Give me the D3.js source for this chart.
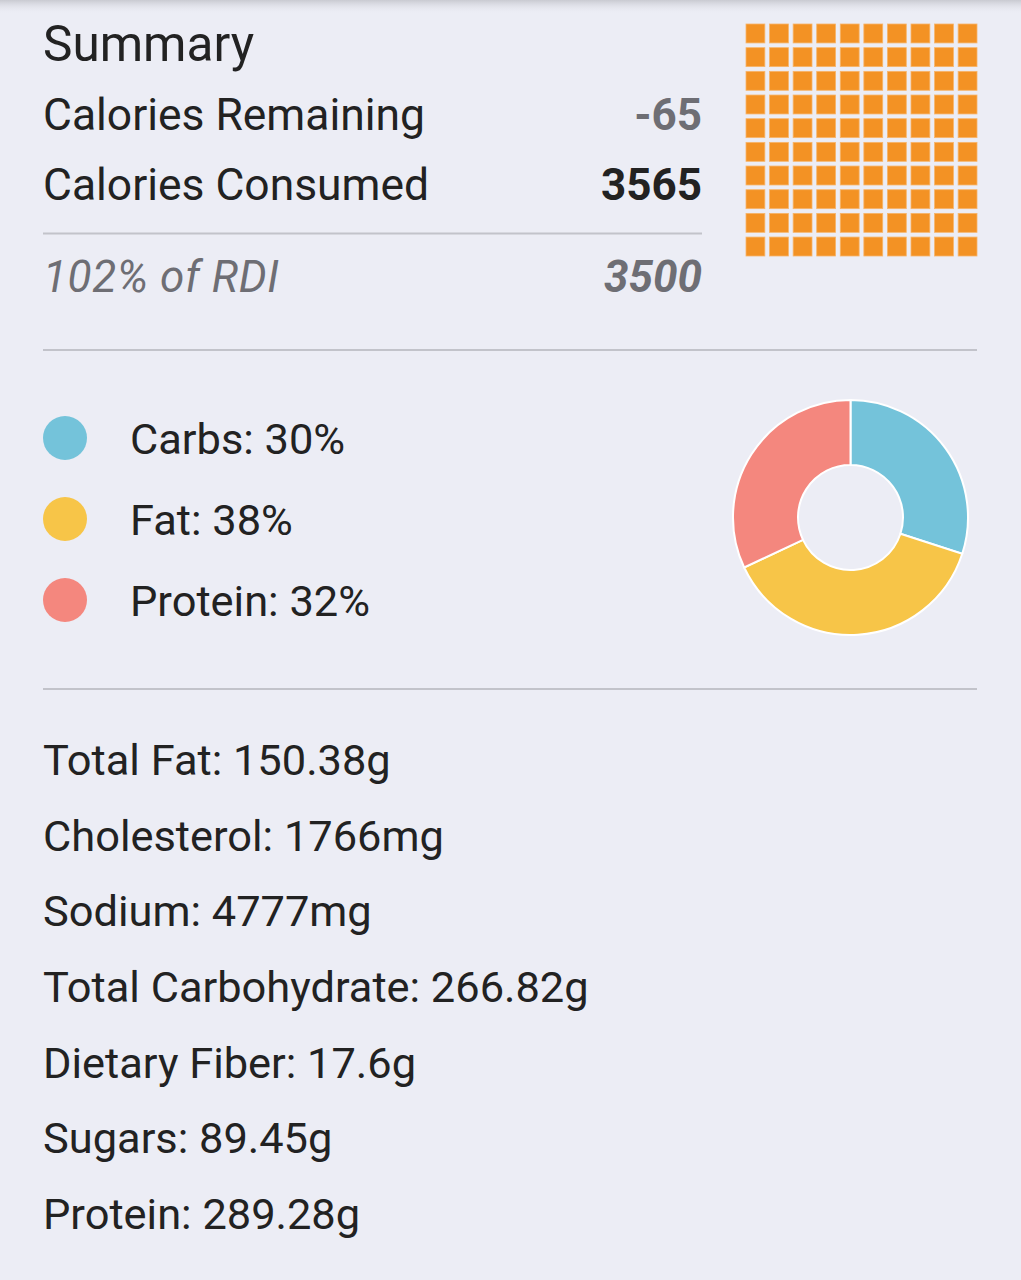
<!DOCTYPE html>
<html><head><meta charset="utf-8">
<script src="https://cdn.jsdelivr.net/npm/d3@7"></script>
<style>
html,body{margin:0;padding:0;background:#ECEDF5;}
svg{display:block;}
</style></head>
<body>
<svg id="chart" width="1021" height="1280"></svg>
<script>
// ---- data ----
const summaryTitle = "Summary";
const summaryLabels = ["Calories Remaining", "Calories Consumed"];
const summaryValues = [-65, 3565];
const rdiLabel = "102% of RDI";
const rdiGoal = 3500;
const macroNames = ["Carbs", "Fat", "Protein"];
const macroPercents = [30, 38, 32];
const macroColors = ["#74C3DA", "#F7C548", "#F4877E"];
const nutrientNames = ["Total Fat", "Cholesterol", "Sodium", "Total Carbohydrate", "Dietary Fiber", "Sugars", "Protein"];
const nutrientValues = ["150.38g", "1766mg", "4777mg", "266.82g", "17.6g", "89.45g", "289.28g"];
const waffleCols = d3.range(10);
const waffleRows = d3.range(10);

const svg = d3.select("#chart");
const font = "Roboto, 'Noto Sans', sans-serif";
const textColor = "#222222";
const grayText = "#6E6E74";
const lineColor = "#C2C3CA";

// top shadow
const defs = svg.append("defs");
const grad = defs.append("linearGradient").attr("id", "shadow").attr("x1", 0).attr("y1", 0).attr("x2", 0).attr("y2", 1);
grad.append("stop").attr("offset", "0%").attr("stop-color", "#C9CAD1");
grad.append("stop").attr("offset", "100%").attr("stop-color", "#ECEDF5").attr("stop-opacity", 0);
svg.append("rect").attr("x", 0).attr("y", 0).attr("width", 1021).attr("height", 14).attr("fill", "url(#shadow)");

// ---- summary ----
const leftX = 43, rightX = 702;
svg.append("text").attr("x", leftX).attr("y", 61).attr("font-family", font).attr("font-size", 49.5)
  .attr("fill", textColor).text(summaryTitle);

const rowY = d3.scalePoint().domain(summaryLabels).range([130, 200]);
svg.selectAll("text.slabel").data(summaryLabels).join("text").attr("class", "slabel")
  .attr("x", leftX).attr("y", d => rowY(d)).attr("font-family", font).attr("font-size", 44.4)
  .attr("fill", textColor).text(d => d);
svg.selectAll("text.svalue").data(summaryValues).join("text").attr("class", "svalue")
  .attr("x", rightX).attr("y", (d, i) => rowY(summaryLabels[i])).attr("text-anchor", "end")
  .attr("font-family", font).attr("font-size", 44).attr("font-weight", "bold")
  .attr("fill", (d, i) => i === 0 ? grayText : textColor).text(d => d);

svg.append("line").attr("x1", 43).attr("x2", rightX).attr("y1", 233.5).attr("y2", 233.5)
  .attr("stroke", lineColor).attr("stroke-width", 2);

svg.append("text").attr("x", leftX).attr("y", 292).attr("font-family", font).attr("font-size", 44)
  .attr("letter-spacing", 0.6).attr("font-style", "italic").attr("fill", grayText).text(rdiLabel);
svg.append("text").attr("x", rightX).attr("y", 292).attr("text-anchor", "end").attr("font-family", font)
  .attr("font-size", 44).attr("font-style", "italic").attr("font-weight", "bold").attr("fill", grayText).text(rdiGoal);

// ---- waffle ----
const consumed = summaryValues[1];
const filled = Math.min(100, Math.round(consumed / rdiGoal * 100));
const wx = d3.scaleBand().domain(waffleCols).range([746, 977]).paddingInner(0.2).paddingOuter(0);
const wy = d3.scaleBand().domain(waffleRows).range([24, 256]).paddingInner(0.2).paddingOuter(0);
const cells = [];
waffleRows.forEach(r => waffleCols.forEach(c => cells.push({r, c, i: r * 10 + c})));
svg.append("g").selectAll("rect").data(cells).join("rect")
  .attr("x", d => wx(d.c)).attr("y", d => wy(d.r))
  .attr("width", wx.bandwidth()).attr("height", wy.bandwidth())
  .attr("fill", d => d.i < filled ? "#F39224" : "#F8D9B4")
  .attr("stroke", "#F7B56A").attr("stroke-width", 0.8);

svg.append("line").attr("x1", 43).attr("x2", 977).attr("y1", 350).attr("y2", 350)
  .attr("stroke", lineColor).attr("stroke-width", 2);

// ---- legend ----
const legY = d3.scalePoint().domain(macroNames).range([438, 600]);
const leg = svg.append("g").selectAll("g").data(macroNames).join("g");
leg.append("circle").attr("cx", 65).attr("cy", d => legY(d)).attr("r", 22)
  .attr("fill", (d, i) => macroColors[i]);
leg.append("text").attr("x", 130).attr("y", d => legY(d) + 16).attr("font-family", font).attr("font-size", 43.4)
  .attr("fill", textColor).text((d, i) => `${d}: ${macroPercents[i]}%`);

// ---- donut ----
const pie = d3.pie().sort(null).value(d => d)(macroPercents);
const arc = d3.arc().innerRadius(52.5).outerRadius(117.5);
svg.append("g").attr("transform", "translate(850.5,517.5)")
  .selectAll("path").data(pie).join("path")
  .attr("d", arc).attr("fill", (d, i) => macroColors[i])
  .attr("stroke", "#FFFFFF").attr("stroke-width", 2);

svg.append("line").attr("x1", 43).attr("x2", 977).attr("y1", 689).attr("y2", 689)
  .attr("stroke", lineColor).attr("stroke-width", 2);

// ---- nutrients ----
const nutY = d3.scalePoint().domain(nutrientNames).range([775, 1229]);
svg.append("g").selectAll("text").data(nutrientNames).join("text")
  .attr("x", leftX).attr("y", d => nutY(d)).attr("font-family", font).attr("font-size", 43.4)
  .attr("fill", textColor).text((d, i) => `${d}: ${nutrientValues[i]}`);
</script>
</body></html>
